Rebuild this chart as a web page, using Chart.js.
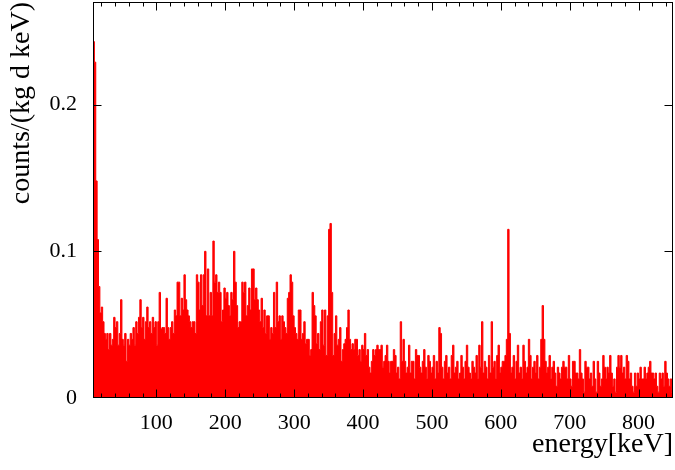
<!DOCTYPE html>
<html><head><meta charset="utf-8">
<script src="https://cdn.jsdelivr.net/npm/chart.js@4/dist/chart.umd.min.js"></script>
<style>html,body{margin:0;padding:0;background:#fff}#wrap{width:675px;height:470px}</style>
</head><body><div id="wrap"><canvas id="c" width="675" height="470"></canvas></div>
<script>
// Histogram: bins of 2 keV starting at 8 keV; values in counts/(kg d keV)
const binStart = 8;
const binWidth = 2;
const rate = [
.243,.229,.148,.108,.076,.058,.062,.052,.044,.040, .044,.033,.044,.036,.040,.055,.048,.052,.036,.044,
.067,.040,.036,.044,.025,.040,.036,.044,.040,.048, .036,.052,.044,.055,.067,.048,.055,.040,.052,.062,
.048,.052,.044,.055,.048,.052,.036,.052,.072,.047, .048,.048,.044,.068,.048,.040,.048,.052,.044,.060,
.056,.079,.079,.056,.068,.060,.084,.067,.060,.056, .052,.048,.052,.052,.044,.084,.079,.060,.084,.063,
.084,.100,.056,.088,.056,.072,.056,.107,.079,.084, .072,.079,.072,.052,.060,.075,.068,.072,.063,.056,
.072,.067,.100,.079,.063,.048,.052,.052,.079,.072, .079,.056,.063,.075,.060,.088,.088,.067,.075,.067,
.060,.052,.068,.048,.060,.044,.056,.056,.040,.048, .044,.072,.048,.079,.052,.056,.040,.056,.052,.048,
.044,.068,.072,.084,.079,.056,.048,.044,.040,.060, .060,.040,.044,.052,.037,.040,.040,.029,.033,.072,
.063,.056,.037,.044,.033,.052,.060,.036,.060,.029, .056,.115,.119,.072,.029,.044,.056,.036,.040,.048,
.025,.033,.037,.040,.048,.060,.040,.033,.037,.033, .040,.040,.029,.033,.025,.036,.033,.044,.029,.033,
.021,.017,.025,.033,.029,.033,.036,.033,.033,.036, .021,.025,.029,.036,.025,.017,.025,.025,.033,.029,
.017,.021,.013,.052,.025,.040,.025,.017,.021,.036, .017,.025,.025,.013,.033,.029,.029,.021,.017,.025,
.033,.021,.013,.029,.025,.017,.021,.029,.013,.025, .017,.048,.044,.021,.013,.025,.029,.017,.021,.013,
.029,.036,.017,.021,.025,.013,.017,.029,.021,.013, .025,.036,.021,.017,.013,.025,.021,.017,.029,.013,
.036,.021,.052,.017,.025,.021,.013,.029,.017,.052, .021,.025,.013,.029,.036,.017,.021,.025,.025,.029,
.040,.115,.044,.017,.021,.029,.013,.025,.036,.017, .021,.013,.036,.025,.017,.021,.040,.029,.013,.021,
.025,.017,.029,.013,.021,.040,.063,.040,.025,.017, .021,.029,.013,.021,.025,.017,.008,.021,.017,.013,
.021,.025,.021,.021,.013,.029,.013,.008,.025,.025, .017,.017,.013,.033,.017,.013,.004,.025,.021,.021,
.013,.017,.008,.025,.013,.004,.025,.017,.008,.013, .029,.021,.013,.021,.017,.029,.017,.008,.013,.004,
.021,.029,.021,.029,.017,.021,.013,.029,.025,.013, .017,.008,.004,.017,.008,.017,.013,.021,.013,.013,
.021,.013,.017,.021,.025,.017,.017,.013,.017,.008, .004,.017,.013,.017,.008,.025,.017,.013,.008,.013,
.004
];
const xMin = 8, xMax = 850;
const yMin = 0, yMax = 0.27;
const xMajorTicks = [100, 200, 300, 400, 500, 600, 700, 800];
const xMinorTicks = [20,40,60,80,120,140,160,180,220,240,260,280,320,340,360,380,420,440,460,480,520,540,560,580,620,640,660,680,720,740,760,780,820,840];
const yMajorTicks = [0, 0.1, 0.2];
const yTickLabels = ['0', '0.1', '0.2'];

const points = rate.map((v, i) => ({x: binStart + i * binWidth, y: v}));
points.push({x: binStart + rate.length * binWidth, y: rate[rate.length - 1]});

Chart.defaults.font.family = "'Liberation Serif', 'Times New Roman', serif";
Chart.defaults.color = '#000';

const framePlugin = {
  id: 'frame',
  afterDraw(chart) {
    const {ctx, chartArea: a, scales: {x, y}} = chart;
    ctx.save();
    ctx.strokeStyle = '#000';
    ctx.lineWidth = 1;
    ctx.beginPath();
    const L = Math.round(a.left) + 0.5, R = Math.round(a.right) - 0.5;
    const T = Math.round(a.top) + 0.5, B = Math.round(a.bottom) - 0.5;
    xMajorTicks.forEach(v => {
      const px = Math.round(x.getPixelForValue(v)) + 0.5;
      ctx.moveTo(px, B); ctx.lineTo(px, B - 8);
      ctx.moveTo(px, T); ctx.lineTo(px, T + 8);
    });
    xMinorTicks.forEach(v => {
      const px = Math.round(x.getPixelForValue(v)) + 0.5;
      ctx.moveTo(px, B); ctx.lineTo(px, B - 4);
      ctx.moveTo(px, T); ctx.lineTo(px, T + 4);
    });
    yMajorTicks.forEach(v => {
      if (v === yMin) return;
      const py = Math.round(y.getPixelForValue(v)) + 0.5;
      ctx.moveTo(L, py); ctx.lineTo(L + 8, py);
      ctx.moveTo(R, py); ctx.lineTo(R - 8, py);
    });
    ctx.stroke();
    ctx.strokeRect(L, T, R - L, B - T);
    ctx.restore();
  }
};

new Chart(document.getElementById('c'), {
  type: 'line',
  data: {
    datasets: [{
      data: points,
      stepped: true,
      fill: 'origin',
      backgroundColor: 'rgb(255,0,0)',
      borderColor: 'rgb(255,0,0)',
      borderWidth: 1,
      pointRadius: 0,
      tension: 0
    }]
  },
  options: {
    responsive: false,
    animation: false,
    events: [],
    layout: {padding: {top: 2, right: 2, left: 0, bottom: 0}},
    plugins: {legend: {display: false}, tooltip: {enabled: false}},
    scales: {
      x: {
        type: 'linear', min: xMin, max: xMax,
        afterBuildTicks: s => { s.ticks = xMajorTicks.map(v => ({value: v})); },
        afterFit: s => { s.height = 72; s.paddingLeft = 0; s.paddingRight = 0; },
        grid: {display: false, drawTicks: false},
        border: {display: false},
        ticks: {font: {size: 22}, padding: 12, maxRotation: 0, autoSkip: false, callback: v => String(v)},
        title: {display: true, text: 'energy[keV]', align: 'end', font: {size: 28}, padding: {top: 0, bottom: 9}}
      },
      y: {
        type: 'linear', min: yMin, max: yMax,
        afterBuildTicks: s => { s.ticks = yMajorTicks.map(v => ({value: v})); },
        afterFit: s => { s.width = 93; s.paddingTop = 0; s.paddingBottom = 0; },
        grid: {display: false, drawTicks: false},
        border: {display: false},
        ticks: {font: {size: 22}, padding: 16, autoSkip: false,
          callback: (v) => { const i = yMajorTicks.indexOf(v); return i >= 0 ? yTickLabels[i] : ''; }},
        title: {display: true, text: 'counts/(kg d keV)', align: 'end', font: {size: 28}, padding: {top: 5, bottom: 0}}
      }
    }
  },
  plugins: [framePlugin]
});
</script>
</body></html>
